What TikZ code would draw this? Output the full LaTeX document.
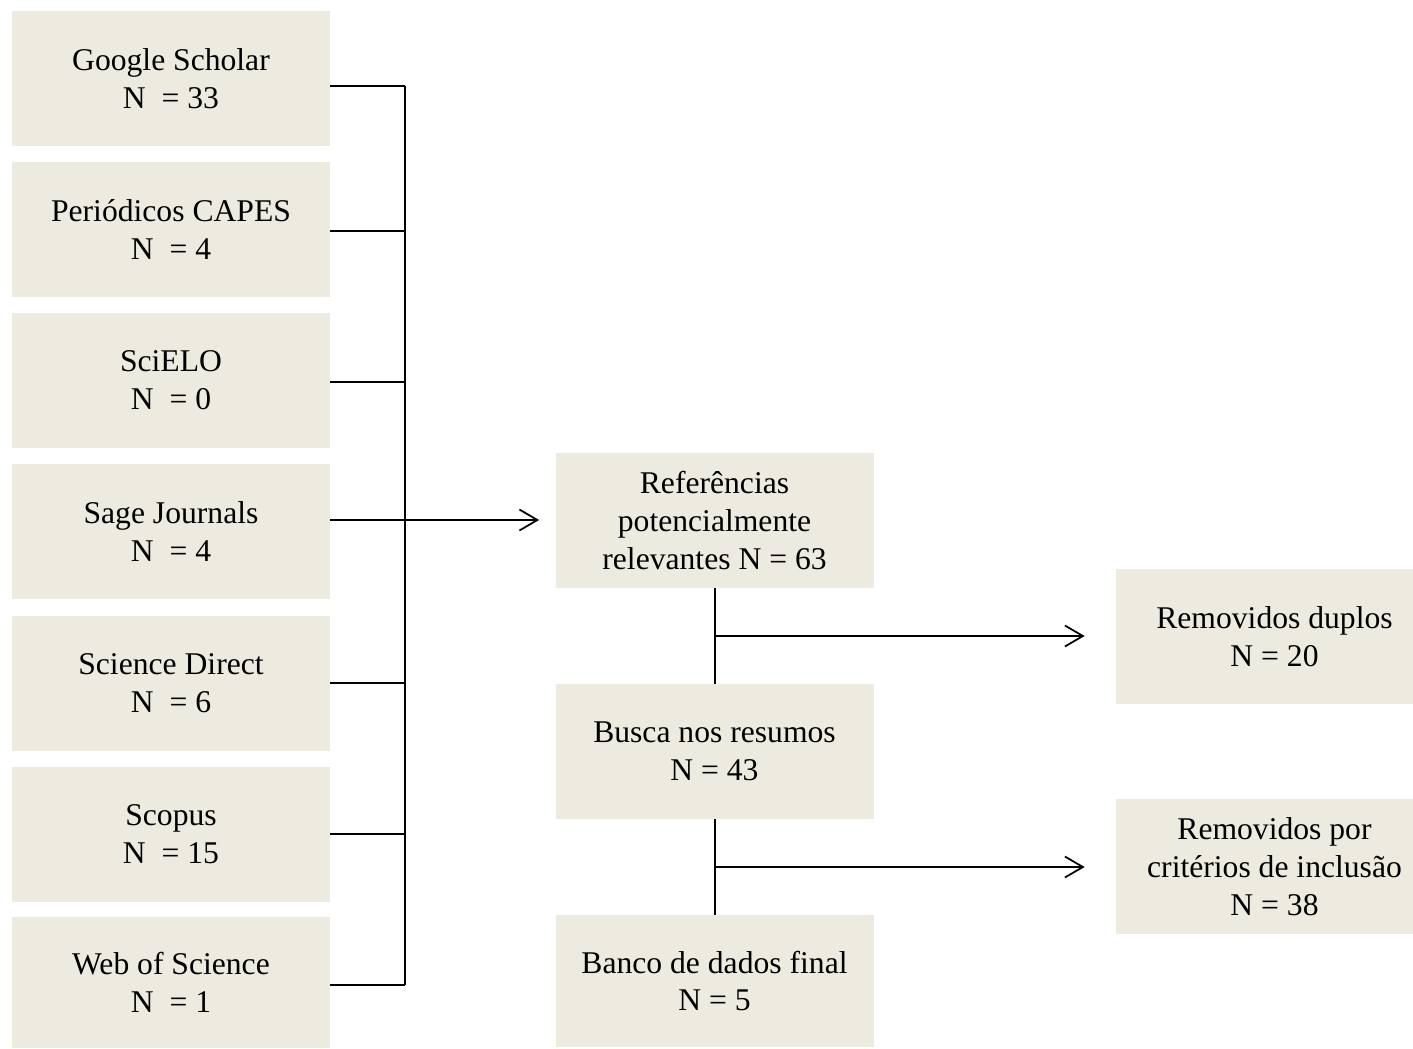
\documentclass[tikz,border=0pt]{standalone}
\usepackage{fontspec}
\setmainfont{Liberation Serif}
\usetikzlibrary{arrows.meta}
\definecolor{boxfill}{HTML}{EDEAE0}
\begin{document}
\begin{tikzpicture}[x=0.02cm,y=-0.02cm,
  box/.style={fill=boxfill,draw=none,minimum width=0.02cm*318,minimum height=0.02cm*135,
    align=center,inner sep=0pt,font=\fontsize{18pt}{21.5pt}\selectfont},
  conn/.style={line width=1pt,draw=black},
  arr/.style={conn,-{Straight Barb[length=0.36cm,width=0.42cm,line width=1pt]}}]
\useasboundingbox (0,0) rectangle (1413,1048);
\clip (0,0) rectangle (1413,1048);
% left column
\node[box] (g1) at (171,78.5) {Google Scholar\\N~ = 33};
\node[box] (g2) at (171,229.5) {Periódicos CAPES\\N~ = 4};
\node[box] (g3) at (171,380.5) {SciELO\\N~ = 0};
\node[box] (g4) at (171,531.5) {Sage Journals\\N~ = 4};
\node[box] (g5) at (171,683) {Science Direct\\N~ = 6};
\node[box] (g6) at (171,834) {Scopus\\N~ = 15};
\node[box,minimum height=0.02cm*131] (g7) at (171,982) {Web of Science\\N~ = 1};
% middle column
\node[box] (ref) at (714.5,520.5) {Referências\\potencialmente\\relevantes N = 63};
\node[box] (busca) at (714.5,751.5) {Busca nos resumos\\N = 43};
\node[box,minimum height=0.02cm*132] (banco) at (714.5,981) {Banco de dados final\\N = 5};
% right column
\node[box,minimum width=0.02cm*317] (rem1) at (1274.5,636.5) {Removidos duplos\\N = 20};
\node[box,minimum width=0.02cm*317] (rem2) at (1274.5,866.5) {Removidos por\\critérios de inclusão\\N = 38};
% junctions
\coordinate (j1) at (405,86);
\coordinate (j2) at (405,231);
\coordinate (j3) at (405,382);
\coordinate (j4) at (405,520);
\coordinate (j5) at (405,683);
\coordinate (j6) at (405,834);
\coordinate (j7) at (405,985);
\coordinate (k1) at (715,636);
\coordinate (k2) at (715,867);
% connectors
\draw[conn] (j1) -- (j7);
\draw[conn] (g1.east |- j1) -- (j1);
\draw[conn] (g2.east |- j2) -- (j2);
\draw[conn] (g3.east |- j3) -- (j3);
\draw[conn] (g5.east |- j5) -- (j5);
\draw[conn] (g6.east |- j6) -- (j6);
\draw[conn] (g7.east |- j7) -- (j7);
\draw[arr,shorten >=0.32cm] (g4.east |- j4) -- (ref.west |- j4);
\draw[conn] (ref.south -| k1) -- (busca.north -| k1);
\draw[conn] (busca.south -| k2) -- (banco.north -| k2);
\draw[arr,shorten >=0.62cm] (k1) -- (rem1.west |- k1);
\draw[arr,shorten >=0.62cm] (k2) -- (rem2.west |- k2);
\end{tikzpicture}
\end{document}
